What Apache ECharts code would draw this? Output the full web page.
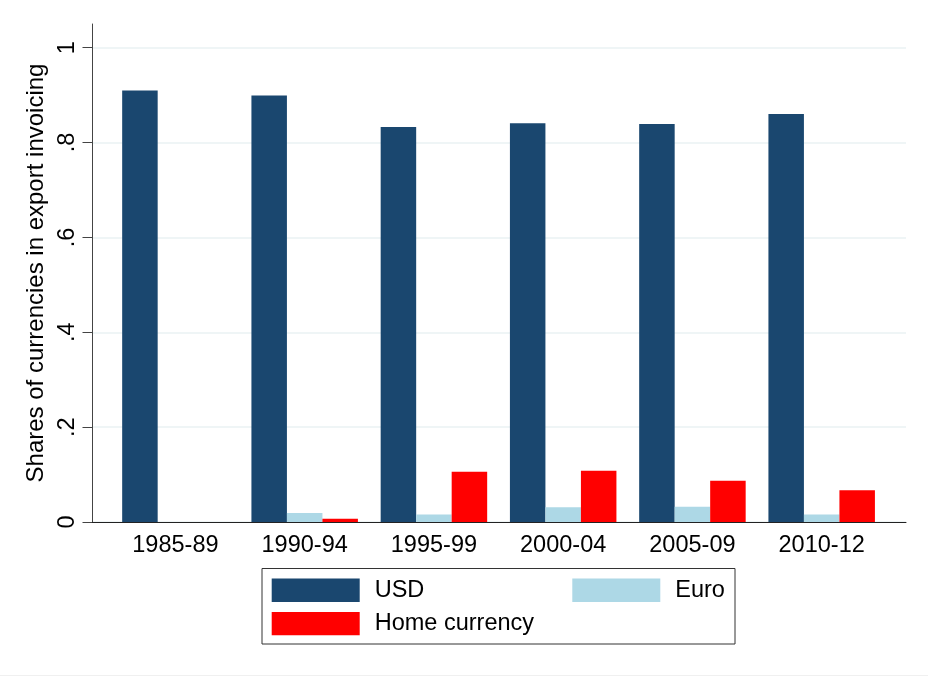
<!DOCTYPE html>
<html>
<head>
<meta charset="utf-8">
<script src="https://cdn.jsdelivr.net/npm/echarts@6/dist/echarts.min.js"></script>
<style>
  html, body { margin: 0; padding: 0; background: #ffffff; }
  #chart { width: 928px; height: 677px; }
</style>
</head>
<body>
<div id="chart"></div>
<script>
// ---- data ----
var categories = ['1985-89', '1990-94', '1995-99', '2000-04', '2005-09', '2010-12'];
var usd  = [0.910, 0.899, 0.833, 0.841, 0.839, 0.860];
var euro = [null, 0.019, 0.016, 0.031, 0.032, 0.016];
var home = [null, 0.007, 0.106, 0.108, 0.087, 0.067];
var yTicks = [0, 0.2, 0.4, 0.6, 0.8, 1];
var yTickLabels = ['0', '.2', '.4', '.6', '.8', '1'];
var yTitle = 'Shares of currencies in export invoicing';

var FONT = 'Liberation Sans, Arial, Helvetica, sans-serif';
var FS = 23.5;
var yMax = 1.05;

function yLabel(v) {
  for (var i = 0; i < yTicks.length; i++) {
    if (Math.abs(v - yTicks[i]) < 1e-9) return yTickLabels[i];
  }
  return '';
}

var chart = echarts.init(document.getElementById('chart'), null, { renderer: 'canvas' });

var option = {
  backgroundColor: '#ffffff',
  animation: false,
  textStyle: { fontFamily: FONT },
  grid: [
    { left: 92, right: 22, top: 24, bottom: 155, containLabel: false },
    { left: 110.8, right: 41.7, top: 24, bottom: 155, containLabel: false }
  ],
  xAxis: [
    {
      type: 'value', gridIndex: 0, min: 0, max: 1,
      axisLine: { show: true, lineStyle: { color: '#222', width: 1 } },
      axisTick: { show: false }, axisLabel: { show: false }, splitLine: { show: false }
    },
    {
      type: 'category', gridIndex: 1, data: categories,
      axisLine: { show: false }, axisTick: { show: false },
      axisLabel: { color: '#000', fontSize: FS, fontFamily: FONT, margin: 12 },
      splitLine: { show: false }
    }
  ],
  yAxis: [
    {
      type: 'value', gridIndex: 0, min: 0, max: yMax, interval: 0.2,
      name: yTitle, nameLocation: 'middle', nameGap: 32,
      nameTextStyle: { color: '#000', fontSize: 24, fontFamily: FONT },
      axisLine: { show: true, lineStyle: { color: '#444', width: 1 } },
      axisTick: { show: true, length: 9.5, lineStyle: { color: '#444' }, customValues: yTicks },
      axisLabel: {
        show: true, rotate: 90, margin: 12, color: '#000', fontSize: FS, fontFamily: FONT,
        customValues: yTicks, formatter: yLabel
      },
      splitLine: { show: true, lineStyle: { color: '#eaf2f3', width: 1.5 }, customValues: yTicks }
    },
    {
      type: 'value', gridIndex: 1, min: 0, max: yMax, show: false,
      splitLine: { show: false }
    }
  ],
  legend: [
    {
      data: ['USD', 'Home currency'], orient: 'vertical', left: 271.7, top: 578.3,
      padding: 0, itemWidth: 88, itemHeight: 23.4, itemGap: 9.3, icon: 'rect',
      textStyle: { color: '#000', fontSize: FS, fontFamily: FONT, padding: [4, 0, 0, 10] },
      selectedMode: false
    },
    {
      data: ['Euro'], orient: 'vertical', left: 572.3, top: 578.3,
      padding: 0, itemWidth: 88, itemHeight: 23.4, itemGap: 9.3, icon: 'rect',
      textStyle: { color: '#000', fontSize: FS, fontFamily: FONT, padding: [4, 0, 0, 10] },
      selectedMode: false
    }
  ],
  graphic: [
    {
      type: 'rect', z: -1, silent: true,
      shape: { x: 262, y: 568.5, width: 473, height: 75.5 },
      style: { fill: 'none', stroke: '#333', lineWidth: 1 }
    },
    {
      type: 'rect', z: -1, silent: true,
      shape: { x: 0, y: 675, width: 928, height: 1 },
      style: { fill: '#f0f0f0' }
    }
  ],
  series: [
    {
      name: 'USD', type: 'bar', xAxisIndex: 1, yAxisIndex: 1, data: usd,
      barWidth: 35.5, barGap: '0%',
      itemStyle: { color: '#1a476f' }
    },
    {
      name: 'Euro', type: 'bar', xAxisIndex: 1, yAxisIndex: 1, data: euro,
      barWidth: 35.5, barGap: '0%',
      itemStyle: { color: '#add8e6' }
    },
    {
      name: 'Home currency', type: 'bar', xAxisIndex: 1, yAxisIndex: 1, data: home,
      barWidth: 35.5, barGap: '0%',
      itemStyle: { color: '#ff0000' }
    }
  ]
};

chart.setOption(option);
</script>
</body>
</html>
